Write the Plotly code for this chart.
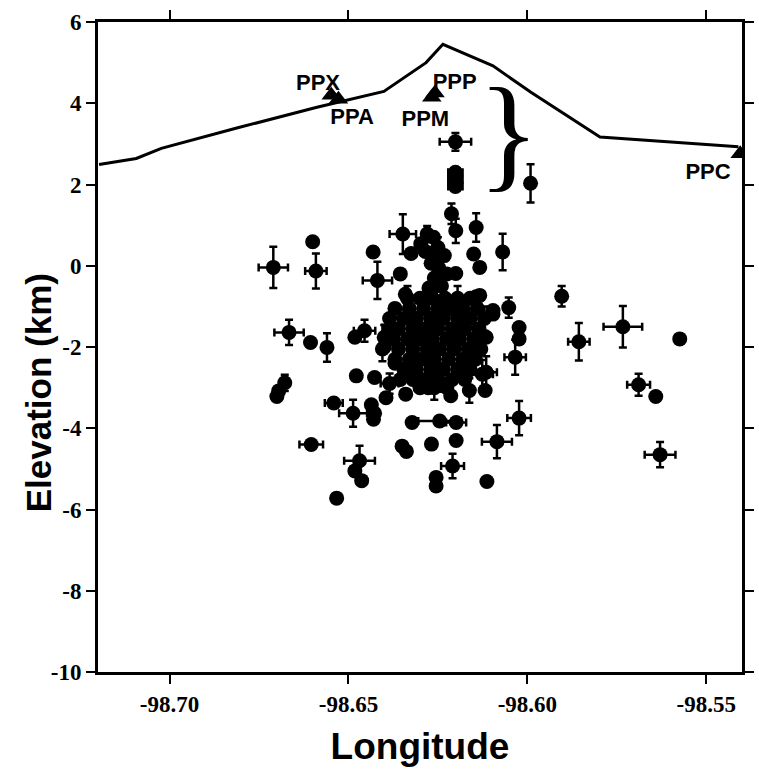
import plotly.graph_objects as go

# ---------------- data ----------------
topo_lon = [-98.7197, -98.7093, -98.7023, -98.6812, -98.6588, -98.6401,
            -98.6283, -98.6236, -98.6096, -98.5990, -98.5797, -98.5410]
topo_elev = [2.49, 2.64, 2.89, 3.39, 3.90, 4.29, 5.00, 5.45, 4.92, 4.27, 3.17, 2.93]

station_names = ["PPX", "PPA", "PPM", "PPP", "PPC"]
station_lon = [-98.6548, -98.6528, -98.6267, -98.6258, -98.5405]
station_elev = [4.20, 4.10, 4.15, 4.25, 2.76]
label_lon = [-98.6585, -98.6490, -98.6285, -98.6203, -98.5495]
label_elev = [4.46, 3.62, 3.58, 4.48, 2.28]

# hypocentres: longitude, elevation (km), longitude error, elevation error
quake_lon = [
    -98.5991, -98.6069, -98.5904, -98.5733, -98.5574, -98.5856, -98.5689, -98.5641,
    -98.5629, -98.6023, -98.6085, -98.6113, -98.6034, -98.6023, -98.6023, -98.6052,
    -98.6096, -98.6115, -98.6118, -98.6115, -98.6143, -98.6201, -98.6201, -98.6201,
    -98.6201, -98.6212, -98.6143, -98.6348, -98.6280, -98.6200, -98.6133, -98.6150,
    -98.6200, -98.6419, -98.6431, -98.6355, -98.6341, -98.6269, -98.6269, -98.6133,
    -98.6096, -98.6710, -98.6600, -98.6591, -98.6666, -98.6606, -98.6560, -98.6482,
    -98.6455, -98.6400, -98.6478, -98.6678, -98.6695, -98.6700, -98.6541, -98.6487,
    -98.6427, -98.6436, -98.6430, -98.6604, -98.6469, -98.6482, -98.6463, -98.6533,
    -98.6427, -98.6400, -98.6322, -98.6245, -98.6199, -98.6268, -98.6350, -98.6338,
    -98.6209, -98.6255, -98.6255, -98.6126, -98.6162, -98.6199, -98.6340, -98.6214,
    -98.6277, -98.6380, -98.6405, -98.6370, -98.6385, -98.6395,
    # dense central cluster
    -98.6262, -98.6250, -98.6265, -98.6248, -98.6260, -98.6240, -98.6275, -98.6232,
    -98.6285, -98.6225, -98.6325, -98.6298,
    -98.6335, -98.6300, -98.6265, -98.6230, -98.6195, -98.6160,
    -98.6370, -98.6330, -98.6290, -98.6250, -98.6215, -98.6180, -98.6140,
    -98.6385, -98.6345, -98.6310, -98.6270, -98.6235, -98.6195, -98.6160, -98.6120,
    -98.6360, -98.6320, -98.6285, -98.6250, -98.6210, -98.6175, -98.6135,
    -98.6375, -98.6335, -98.6300, -98.6265, -98.6225, -98.6190, -98.6150,
    -98.6360, -98.6320, -98.6280, -98.6245, -98.6205, -98.6165, -98.6130,
    -98.6370, -98.6330, -98.6295, -98.6260, -98.6220, -98.6180, -98.6145,
    -98.6345, -98.6310, -98.6270, -98.6235, -98.6195, -98.6160,
    -98.6355, -98.6320, -98.6285, -98.6250, -98.6210, -98.6175,
    -98.6300, -98.6260, -98.6225,
]
quake_elev = [
    2.03, 0.34, -0.75, -1.50, -1.80, -1.87, -2.93, -3.22,
    -4.65, -3.75, -4.33, -5.31, -2.25, -1.52, -1.80, -1.03,
    -1.19, -2.62, -3.07, -1.76, -0.76, 3.05, 2.30, 2.12,
    1.95, 1.28, 0.94, 0.78, 0.78, 0.86, -0.04, 0.29,
    -0.19, -0.36, 0.34, -0.20, -0.70, 0.06, -0.60, -0.73,
    -1.10, -0.04, 0.59, -0.13, -1.64, -1.89, -2.01, -1.76,
    -1.60, -1.76, -2.71, -2.88, -3.08, -3.22, -3.38, -3.63,
    -3.63, -3.42, -3.78, -4.40, -4.80, -5.05, -5.29, -5.72,
    -2.75, -2.00, -3.86, -3.82, -4.30, -4.39, -4.44, -4.57,
    -4.93, -5.21, -5.42, -2.67, -3.07, -3.86, -3.16, -3.20,
    -3.00, -1.52, -2.05, -2.40, -2.90, -3.25,
    0.70, 0.45, 0.20, -0.05, -0.30, -0.50, -0.55, 0.25,
    0.35, -0.20, 0.30, 0.54,
    -0.80, -0.80, -0.80, -0.80, -0.80, -0.80,
    -1.05, -1.05, -1.05, -1.05, -1.05, -1.05, -1.05,
    -1.30, -1.30, -1.30, -1.30, -1.30, -1.30, -1.30, -1.30,
    -1.55, -1.55, -1.55, -1.55, -1.55, -1.55, -1.55,
    -1.80, -1.80, -1.80, -1.80, -1.80, -1.80, -1.80,
    -2.05, -2.05, -2.05, -2.05, -2.05, -2.05, -2.05,
    -2.30, -2.30, -2.30, -2.30, -2.30, -2.30, -2.30,
    -2.55, -2.55, -2.55, -2.55, -2.55, -2.55,
    -2.80, -2.80, -2.80, -2.80, -2.80, -2.80,
    -3.00, -3.00, -3.00,
]
quake_lon_err = [
    0, 0, 0, 0.0054, 0, 0.0030, 0.0032, 0,
    0.0043, 0.0033, 0.0042, 0, 0.0030, 0, 0, 0,
    0, 0.0030, 0, 0, 0, 0.0044, 0.0020, 0.0020,
    0.0020, 0, 0, 0.0037, 0, 0, 0, 0,
    0, 0.0041, 0, 0, 0, 0, 0, 0,
    0, 0.0041, 0, 0.0030, 0.0041, 0, 0, 0,
    0.0030, 0, 0, 0, 0, 0, 0.0025, 0.0039,
    0, 0, 0, 0.0033, 0.0043, 0, 0, 0,
    0, 0, 0, 0.0060, 0, 0, 0, 0,
    0.0032, 0, 0, 0.0030, 0, 0.0028, 0, 0,
    0, 0.0025, 0, 0, 0.0025, 0,
    0, 0, 0, 0, 0, 0, 0, 0,
    0, 0, 0, 0,
    0, 0.0025, 0, 0, 0, 0,
    0, 0, 0, 0, 0.0030, 0, 0,
    0, 0, 0, 0, 0, 0, 0, 0,
    0, 0, 0, 0, 0, 0, 0,
    0, 0, 0, 0, 0, 0, 0,
    0, 0, 0, 0, 0, 0, 0,
    0, 0, 0, 0, 0, 0, 0,
    0, 0, 0, 0, 0, 0,
    0, 0, 0, 0, 0, 0,
    0, 0, 0,
]
quake_elev_err = [
    0.47, 0.45, 0.25, 0.51, 0, 0.46, 0.27, 0,
    0.31, 0.42, 0.41, 0, 0.43, 0, 0, 0.25,
    0, 0.39, 0, 0, 0, 0.22, 0, 0,
    0.10, 0.25, 0.35, 0.49, 0.20, 0.30, 0, 0,
    0, 0.46, 0, 0, 0, 0, 0, 0,
    0, 0.51, 0, 0.43, 0.31, 0, 0.35, 0,
    0.27, 0.30, 0, 0.20, 0, 0, 0, 0.33,
    0, 0, 0, 0, 0.37, 0, 0, 0,
    0, 0, 0, 0, 0, 0, 0, 0,
    0.30, 0, 0, 0.35, 0.30, 0, 0, 0,
    0, 0.30, 0.30, 0, 0.25, 0,
    0, 0.25, 0, 0, 0, 0, 0, 0,
    0, 0, 0, 0,
    0.30, 0, 0, 0, 0.30, 0,
    0, 0.25, 0, 0, 0, 0.30, 0,
    0, 0, 0, 0, 0, 0, 0, 0.30,
    0.28, 0, 0, 0, 0, 0, 0,
    0, 0, 0, 0, 0, 0, 0.30,
    0, 0, 0.25, 0, 0, 0, 0,
    0, 0, 0, 0, 0, 0.28, 0,
    0, 0.30, 0, 0, 0, 0,
    0, 0, 0, 0.30, 0, 0,
    0, 0.30, 0,
]

x_ticks = [-98.70, -98.65, -98.60, -98.55]
y_ticks = [-10, -8, -6, -4, -2, 0, 2, 4, 6]

# ---------------- figure ----------------
fig = go.Figure()

fig.add_trace(go.Scatter(
    x=topo_lon, y=topo_elev, mode="lines",
    line=dict(color="black", width=3), hoverinfo="skip", showlegend=False))

fig.add_trace(go.Scatter(
    x=quake_lon, y=quake_elev, mode="markers",
    marker=dict(symbol="circle", size=15, color="black"),
    error_x=dict(type="data", array=quake_lon_err, visible=True,
                 color="black", thickness=2.5, width=4),
    error_y=dict(type="data", array=quake_elev_err, visible=True,
                 color="black", thickness=2.5, width=4),
    showlegend=False))

fig.add_trace(go.Scatter(
    x=station_lon, y=station_elev, mode="markers",
    marker=dict(symbol="triangle-up", size=17, color="black"),
    showlegend=False))

fig.add_trace(go.Scatter(
    x=label_lon, y=label_elev, mode="text", text=station_names,
    textfont=dict(family="Liberation Sans", size=22, color="black", weight="bold"),
    showlegend=False))

# brace marking the shallow events
fig.add_annotation(
    x=-98.6052, y=3.3, xref="x", yref="y", text="}", showarrow=False,
    borderpad=0,
    font=dict(family="Liberation Serif", size=128, color="black"))

# y-axis title
fig.add_annotation(
    x=-0.092, y=0.43, xref="paper", yref="paper", text="<b>Elevation (km)</b>",
    textangle=-90, showarrow=False, xanchor="center", yanchor="middle",
    font=dict(family="Liberation Sans", size=35, color="black"))

axis_common = dict(
    showline=True, linecolor="black", linewidth=3, mirror="allticks",
    ticks="outside", ticklen=9, tickwidth=2, tickcolor="black",
    showgrid=False, zeroline=False,
    tickfont=dict(family="Liberation Serif", size=23, color="black", weight="bold"),
)

fig.update_xaxes(
    range=[-98.72, -98.54], tickvals=x_ticks, ticktext=[f"{v:.2f}" for v in x_ticks],
    title=dict(text="<b>Longitude</b>", standoff=18,
               font=dict(family="Liberation Sans", size=37, color="black")),
    **axis_common)
fig.update_yaxes(
    range=[-10, 6], tickvals=y_ticks, ticktext=[str(v) for v in y_ticks],
    **axis_common)

fig.update_layout(
    width=759, height=776,
    margin=dict(l=98, r=5, t=22, b=104),
    plot_bgcolor="white", paper_bgcolor="white",
)

fig.write_html("out.html")
